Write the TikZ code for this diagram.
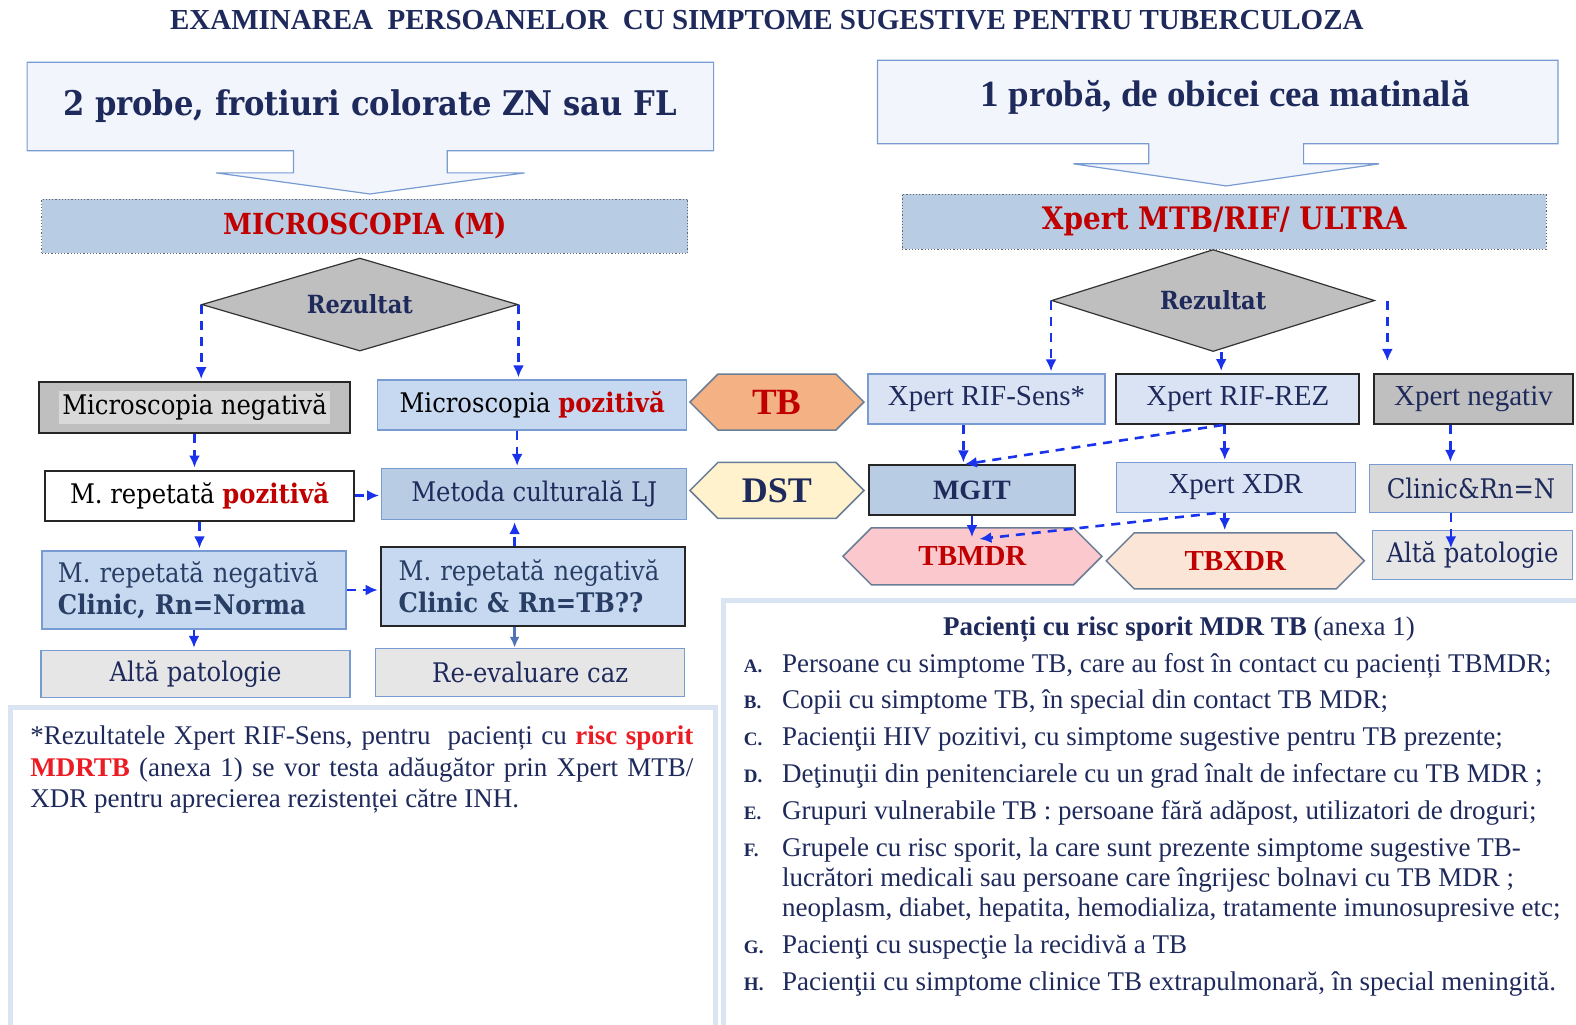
\documentclass[tikz,border=0pt]{standalone}
\usepackage{fontspec}
\setmainfont{Liberation Serif}
\newfontfamily\camb{DejaVu Serif Condensed}[BoldFont={DejaVu Serif Condensed Bold}]
\usepackage{tikz}
\usetikzlibrary{arrows.meta}
\usetikzlibrary{shapes.geometric, shapes.symbols}
\usetikzlibrary{calc}
\definecolor{navy}{RGB}{31,42,92}
\definecolor{tbred}{RGB}{192,0,0}
\definecolor{brred}{RGB}{235,28,36}
\definecolor{slate}{RGB}{40,62,100}
\definecolor{edgeblue}{RGB}{120,155,210}
\definecolor{callfill}{RGB}{242,246,252}
\definecolor{barfill}{RGB}{184,204,228}
\definecolor{paleblue}{RGB}{198,217,241}
\definecolor{paler}{RGB}{218,227,243}
\definecolor{midgray}{RGB}{191,191,191}
\definecolor{litgray}{RGB}{231,230,230}
\definecolor{hlgray}{RGB}{217,217,217}
\definecolor{arrblue}{RGB}{25,50,235}
\definecolor{steel}{RGB}{80,115,180}
\definecolor{orangefill}{RGB}{244,177,131}
\definecolor{creamfill}{RGB}{255,242,204}
\definecolor{pinkfill}{RGB}{250,200,205}
\definecolor{peachfill}{RGB}{251,229,214}
\definecolor{hexedge}{RGB}{105,125,150}
\definecolor{panel}{RGB}{218,228,242}
\tikzstyle{bx}=[rectangle, draw=edgeblue, line width=1.3pt, inner sep=2pt, align=center]
\tikzstyle{kbx}=[bx, draw=black!85, line width=2pt]
\tikzstyle{romb}=[diamond, draw=black!80, fill=midgray, line width=1.2pt, inner sep=0pt,
                  aspect=3.4, text=navy, font=\camb\bfseries\fontsize{25}{28}\selectfont]
\tikzstyle{hexa}=[signal, signal to=west and east, signal pointer angle=90, draw=hexedge,
                  line width=1.5pt, inner sep=0pt]
\tikzstyle{bar}=[rectangle, draw=black!60, dotted, line width=1.2pt, fill=barfill, text=tbred]
\tikzstyle{darr}=[arrblue, line width=2.6pt, dash pattern=on 9pt off 7pt,
                  -{Latex[length=12pt,width=11pt]}, shorten >=2pt]
\tikzstyle{sarr}=[steel, line width=2.4pt, -{Latex[length=11pt,width=10pt]}]
\tikzstyle{cb}=[font=\camb\fontsize{27}{32}\selectfont]
\tikzstyle{tm}=[font=\fontsize{29}{32}\selectfont, text=navy]

\begin{document}
\begin{tikzpicture}[x=1.005pt, y=-1.005pt]
    \useasboundingbox (0,0) rectangle (1568,1019);
    \fill[white] (0,0) rectangle (1568,1019);
    \node[font=\bfseries\fontsize{29}{34}\selectfont, text=navy] (title) at (763,20)
      {EXAMINAREA\ \ PERSOANELOR\ \ CU SIMPTOME SUGESTIVE PENTRU TUBERCULOZA};
    % block arrows at the top
    \filldraw[draw=edgeblue, fill=callfill, line width=1.2pt] (27,62) -- (710,62) --
      (710,150) -- (445,150) -- (445,172) -- (522,172) -- (368,193) -- (215,172) --
      (292,172) -- (292,150) -- (27,150) -- cycle;
    \filldraw[draw=edgeblue, fill=callfill, line width=1.2pt] (873,60) -- (1550,60) --
      (1550,143) -- (1297,143) -- (1297,163) -- (1372,163) -- (1220,185) -- (1068,163) --
      (1143,163) -- (1143,143) -- (873,143) -- cycle;
    \node[font=\camb\bfseries\fontsize{34}{38}\selectfont, text=navy] (probe2) at (368,106)
      {2 probe, frotiuri colorate ZN sau FL};
    \node[font=\bfseries\fontsize{37}{42}\selectfont, text=navy] (probe1) at (1219,97)
      {1 probă, de obicei cea matinală};
    \node[bar, minimum width=646, minimum height=54, font=\camb\bfseries\fontsize{29}{32}\selectfont]
      (micro) at (363,225) {MICROSCOPIA (M)};
    \node[bar, minimum width=644, minimum height=55, font=\camb\bfseries\fontsize{31}{34}\selectfont]
      (xpert) at (1218,220.5) {Xpert MTB/RIF/ ULTRA};
    \node[romb, minimum width=316, minimum height=93] (rezl) at (358,303) {Rezultat};
    \node[romb, minimum width=323, minimum height=102] (rezr) at (1207,299) {Rezultat};
    % microscopy column
    \node[kbx, cb, fill=midgray, minimum width=311, minimum height=51] (mneg) at (193.5,405.5)
      {\fboxsep=3pt\colorbox{hlgray}{Microscopia negativă}};
    \node[bx, cb, fill=paleblue, minimum width=309, minimum height=50] (mpoz) at (529.5,403)
      {Microscopia \textbf{\color{tbred}pozitivă}};
    \node[kbx, cb, fill=white, minimum width=309, minimum height=50] (repoz) at (198.5,493)
      {M. repetată \textbf{\color{tbred}pozitivă}};
    \node[bx, cb, fill=barfill, text=navy, minimum width=305, minimum height=51] (cultlj)
      at (531.5,491.5) {Metoda culturală LJ};
    \node[bx, cb, fill=paleblue, text=slate, text width=272pt, align=left, minimum width=304,
      minimum height=78] (reneg1) at (193,587) {M. repetată negativă\\\textbf{Clinic, Rn=Norma}};
    \node[kbx, cb, fill=paleblue, text=slate, text width=268pt, align=left, minimum width=304,
      minimum height=79] (reneg2) at (530,583.5) {M. repetată negativă\\\textbf{Clinic \& Rn=TB??}};
    \node[bx, cb, fill=litgray, text=navy, minimum width=309, minimum height=47] (alta1)
      at (194.5,670.5) {Altă patologie};
    \node[bx, cb, fill=litgray, text=navy, minimum width=309, minimum height=48] (reeval)
      at (527.5,669) {Re-evaluare caz};
    % hexagons in the middle
    \node[hexa, fill=orangefill, text=tbred, minimum width=174, minimum height=56,
      font=\bfseries\fontsize{37}{40}\selectfont] (tb) at (773,400) {TB};
    \node[hexa, fill=creamfill, text=navy, minimum width=174, minimum height=56,
      font=\bfseries\fontsize{36}{40}\selectfont] (dst) at (773,488) {DST};
    % xpert column
    \node[bx, tm, fill=paler, minimum width=237, minimum height=50] (rifsens) at (981.5,397)
      {Xpert RIF-Sens*};
    \node[kbx, tm, fill=paler, minimum width=243, minimum height=50] (rifrez) at (1231.5,397)
      {Xpert RIF-REZ};
    \node[kbx, tm, fill=midgray, minimum width=198, minimum height=50] (xneg) at (1466,397)
      {Xpert negativ};
    \node[kbx, tm, fill=barfill, font=\bfseries\fontsize{28}{32}\selectfont, minimum width=206,
      minimum height=50] (mgit) at (967,488) {MGIT};
    \node[bx, tm, fill=paler, minimum width=239, minimum height=50] (xdr) at (1229.5,485)
      {Xpert XDR};
    \node[bx, cb, text=navy, fill=hlgray, minimum width=203, minimum height=48] (clinic)
      at (1463.5,486) {Clinic\&Rn=N};
    \node[hexa, fill=pinkfill, text=tbred, minimum width=259, minimum height=57,
      font=\bfseries\fontsize{29}{32}\selectfont] (tbmdr) at (967.5,553.5) {TBMDR};
    \node[hexa, fill=peachfill, text=tbred, minimum width=258, minimum height=56,
      font=\bfseries\fontsize{29}{32}\selectfont] (tbxdr) at (1229,558) {TBXDR};
    \node[bx, cb, text=navy, fill=litgray, minimum width=200, minimum height=49] (alta2)
      at (1465,552.5) {Altă patologie};
    % connectors
    \draw[darr] (rezl.west) -- (rezl.west |- mneg.north);
    \draw[darr] (rezl.east) -- (rezl.east |- mpoz.north);
    \foreach \from/\to in {mneg/repoz, repoz/reneg1, reneg1/alta1}
      \draw[darr] (\from.south) -- (\from.south |- \to.north);
    \draw[darr] ($(mpoz.south)+(-15,0)$) -- ($(mpoz.south |- cultlj.north)+(-15,0)$);
    \draw[darr] (repoz.east) -- (repoz.east -| cultlj.west);
    \draw[darr] (reneg1.east) -- (reneg1.east -| reneg2.west);
    \draw[darr] ($(reneg2.north)+(-18,0)$) -- ($(reneg2.north |- cultlj.south)+(-18,0)$);
    \draw[sarr] ($(reneg2.south)+(-18,0)$) -- ($(reneg2.south |- reeval.north)+(-18,0)$);
    \draw[darr] (rezr.west) -- (rezr.west |- rifsens.north);
    \draw[darr] ($(rezr.south)+(8,0)$) -- ($(rezr.south |- rifrez.north)+(8,0)$);
    \draw[darr] ($(rezr.east)+(12,0)$) -- ($(rezr.east |- xneg.north)+(12,-10)$);
    \draw[darr] ($(rifsens.south)+(-23,0)$) -- ($(rifsens.south |- mgit.north)+(-23,0)$);
    \draw[darr] ($(rifrez.south)+(-15,0)$) -- ($(mgit.north)+(-9,0)$);
    \draw[darr] ($(rifrez.south)+(-13,0)$) -- ($(rifrez.south |- xdr.north)+(-13,0)$);
    \draw[darr] ($(xneg.south)+(-23,0)$) -- ($(xneg.south |- clinic.north)+(-23,0)$);
    \draw[darr] (mgit.south) -- ($(mgit.south |- tbmdr.north)+(0,12)$);
    \draw[darr] ($(xdr.south)+(-20,0)$) -- ($(tbmdr.north)+(5,12)$);
    \draw[darr] ($(xdr.south)+(-11,0)$) -- ($(xdr.south |- tbxdr.north)+(-11,0)$);
    \draw[darr] ($(clinic.south)+(-20,0)$) -- ($(clinic.south |- alta2.north)+(-20,20)$);
    % notes at the bottom
    \draw[panel, line width=5pt] (10,704) rectangle (712,1040);
    \draw[panel, line width=5pt] (720,597) rectangle (1580,1040);
    \node[anchor=north west, inner sep=0pt, text width=663pt, align=justify, text=navy,
      font=\fontsize{27}{31.5}\selectfont] (note) at (30,722)
      {*Rezultatele Xpert RIF-Sens, pentru\ \ pacienți cu \textbf{\color{brred}risc sporit}\linebreak
       \textbf{\color{brred}MDRTB} (anexa 1) se vor testa adăugător prin Xpert MTB/\linebreak
       XDR pentru aprecierea rezistenței către INH.};
    \node[anchor=base, text=navy, font=\fontsize{27}{32}\selectfont] (risc) at (1173,632)
      {\textbf{Pacienți cu risc sporit MDR TB} (anexa 1)};
    \foreach \yy/\lab/\txt in {669/A/{Persoane cu simptome TB, care au fost în contact cu pacienți TBMDR;},
        705/B/{Copii cu simptome TB, în special din contact TB MDR;},
        742/C/{Pacienţii HIV pozitivi, cu simptome sugestive pentru TB prezente;},
        779/D/{Deţinuţii din penitenciarele cu un grad înalt de infectare cu TB MDR ;},
        815/E/{Grupuri vulnerabile TB : persoane fără adăpost, utilizatori de droguri;},
        852/F/{Grupele cu risc sporit, la care sunt prezente simptome sugestive TB-},
        949/G/{Pacienţi cu suspecţie la recidivă a TB},
        985/H/{Pacienţii cu simptome clinice TB extrapulmonară, în special meningită.}}
    {
      \node[anchor=base west, inner sep=0pt, text=navy, font=\bfseries\fontsize{19}{22}\selectfont]
        (lab\lab) at (740,\yy) {\lab.};
      \node[anchor=base west, inner sep=0pt, text=navy, font=\fontsize{27}{32}\selectfont]
        (item\lab) at (778,\yy) {\txt};
    }
    \node[anchor=base west, inner sep=0pt, text=navy, font=\fontsize{27}{32}\selectfont]
      (itemFb) at (778,882) {lucrători medicali sau persoane care îngrijesc bolnavi cu TB MDR ;};
    \node[anchor=base west, inner sep=0pt, text=navy, font=\fontsize{27}{32}\selectfont]
      (itemFc) at (778,912) {neoplasm, diabet, hepatita, hemodializa, tratamente imunosupresive etc;};
\end{tikzpicture}
\end{document}
